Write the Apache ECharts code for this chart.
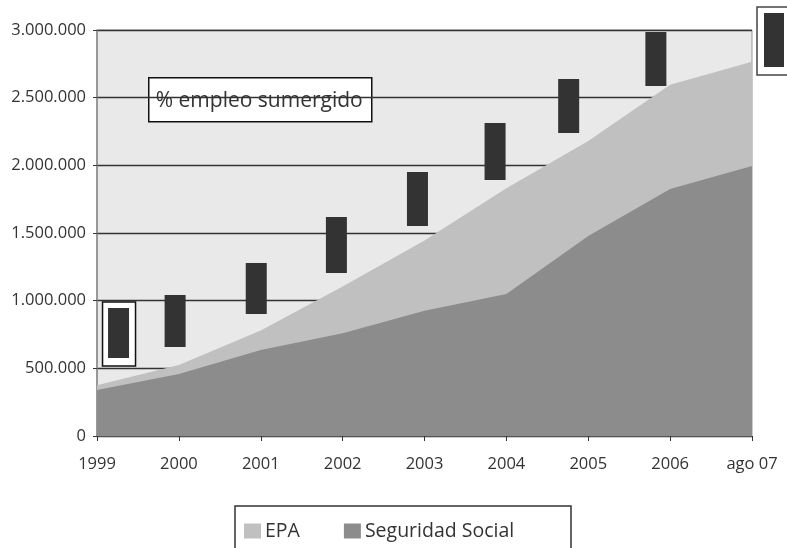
<!DOCTYPE html>
<html>
<head>
<meta charset="utf-8">
<script src="https://cdn.jsdelivr.net/npm/echarts@6/dist/echarts.min.js"></script>
<style>html,body{margin:0;padding:0;background:#fff;}#c{width:787px;height:548px;}</style>
</head>
<body>
<div id="c"></div>
<script>
var categories = ['1999','2000','2001','2002','2003','2004','2005','2006','ago 07'];
var epa = [375000, 525000, 780000, 1105000, 1445000, 1830000, 2180000, 2595000, 2765000];
var seguridadSocial = [340000, 458000, 635000, 760000, 925000, 1050000, 1478000, 1825000, 1995000];
// floating "% empleo sumergido" marks: position along category index, low, high
var sumergidoPos = [0.263, 0.954, 1.945, 2.924, 3.914, 4.862, 5.761, 6.826];
var sumergidoLow = [576000, 658000, 901000, 1204000, 1552000, 1892000, 2239000, 2586000];
var sumergidoHigh = [946000, 1042000, 1278000, 1618000, 1951000, 2313000, 2638000, 2985000];
var yTicks = [0, 500000, 1000000, 1500000, 2000000, 2500000, 3000000];

var FONT = '"Open Sans", sans-serif';
function fmt(v){ return String(v).replace(/\B(?=(\d{3})+(?!\d))/g, '.'); }

var rects = sumergidoPos.map(function(p,i){ return [p, sumergidoLow[i], sumergidoHigh[i]]; });

var chart = echarts.init(document.getElementById('c'));
chart.setOption({
  backgroundColor: '#fff',
  animation: false,
  grid: { left: 97, right: 35, top: 30, bottom: 112, show: true, backgroundColor: '#e9e9e9', borderColor: '#999', borderWidth: 1 },
  legend: {
    left: 244, top: 521, itemWidth: 17, itemHeight: 15, itemGap: 44, padding: 0,
    icon: 'rect',
    data: ['EPA', 'Seguridad Social'],
    textStyle: { fontFamily: FONT, fontSize: 19.5, color: '#333', padding: [0,0,0,-1] }
  },
  xAxis: [{
    type: 'category', data: categories, boundaryGap: false,
    axisLine: { lineStyle: { color: '#555', width: 1 } },
    axisTick: { show: true, length: 5, lineStyle: { color: '#333' } },
    axisLabel: { fontFamily: FONT, fontSize: 16.5, color: '#333', margin: 20, interval: 0 },
    splitLine: { show: false }
  }, {
    type: 'value', min: 0, max: 8, show: false
  }],
  yAxis: {
    type: 'value', min: 0, max: 3000000, interval: 500000,
    axisLine: { show: true, lineStyle: { color: '#888', width: 1.5 } },
    axisTick: { show: true, length: 4, lineStyle: { color: '#333' } },
    axisLabel: { fontFamily: FONT, fontSize: 16.5, color: '#333', margin: 11,
      formatter: function(v){ return yTicks.indexOf(v) >= 0 ? fmt(v) : ''; } },
    splitLine: { show: true, lineStyle: { color: '#333', width: 1.3 } }
  },
  series: [{
    name: 'EPA', type: 'line', data: epa, symbol: 'none',
    lineStyle: { width: 0 }, itemStyle: { color: '#c0c0c0' },
    areaStyle: { color: '#c0c0c0', opacity: 1 }, z: 2
  }, {
    name: 'Seguridad Social', type: 'line', data: seguridadSocial, symbol: 'none',
    lineStyle: { width: 0 }, itemStyle: { color: '#8c8c8c' },
    areaStyle: { color: '#8c8c8c', opacity: 1 }, z: 3
  }, {
    name: '% empleo sumergido', type: 'custom', xAxisIndex: 1, data: rects, z: 5,
    renderItem: function(params, api){
      var top = api.coord([api.value(0), api.value(2)]);
      var bot = api.coord([api.value(0), api.value(1)]);
      var w = 21;
      var children = [];
      if (params.dataIndex === 0) {
        children.push({ type: 'rect', shape: { x: top[0] - 16, y: top[1] - 6, width: 33, height: bot[1] - top[1] + 14 },
          style: { fill: '#fff', stroke: '#111', lineWidth: 1.5 } });
      }
      children.push({ type: 'rect', shape: { x: top[0] - w/2, y: top[1], width: w, height: bot[1] - top[1] },
        style: { fill: '#333' } });
      return { type: 'group', children: children };
    }
  }],
  graphic: [
    { type: 'group', left: 148, top: 77, z: 10, children: [
      { type: 'rect', shape: { x: 0, y: 0, width: 223, height: 44 }, style: { fill: '#fff', stroke: '#111', lineWidth: 1.5 } },
      { type: 'text', x: 7, y: 23, style: { text: '% empleo sumergido', fontFamily: FONT, fontSize: 21, fill: '#333', verticalAlign: 'middle' } }
    ]},
    { type: 'rect', z: 10, shape: { x: 757, y: 7, width: 40, height: 68 }, style: { fill: '#fff', stroke: '#444', lineWidth: 1.5 } },
    { type: 'rect', z: 11, shape: { x: 764, y: 13, width: 20, height: 54 }, style: { fill: '#333' } },
    { type: 'rect', z: 10, shape: { x: 235, y: 506, width: 336, height: 60 }, style: { fill: 'none', stroke: '#333', lineWidth: 1.5 } }
  ]
});
</script>
</body>
</html>
